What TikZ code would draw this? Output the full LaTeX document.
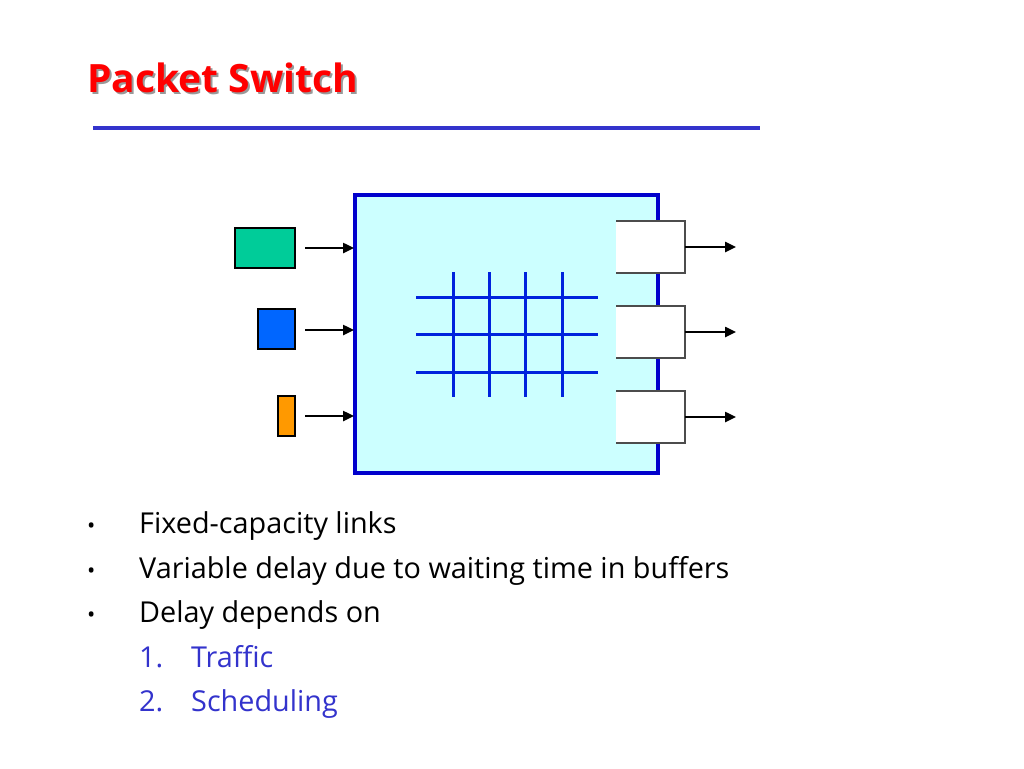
\documentclass[tikz,border=0pt]{standalone}
\usepackage{fontspec}
\setmainfont{Open Sans}
\usetikzlibrary{arrows.meta}
\definecolor{boxblue}{HTML}{0000CC}
\definecolor{gridblue}{HTML}{0022DD}
\definecolor{fillcyan}{HTML}{CCFFFF}
\definecolor{listblue}{HTML}{3333CC}
\definecolor{pgreen}{HTML}{00CC99}
\definecolor{pblue}{HTML}{0066FF}
\definecolor{porange}{HTML}{FF9900}
\tikzset{
  packet/.style={draw=black, line width=1.2pt, inner sep=0pt, outer sep=0pt},
  buffer/.style={fill=white, inner sep=0pt, outer sep=0pt, minimum width=69pt, minimum height=52pt},
  arr/.style={line width=2.4pt, -{Triangle[length=11pt,width=10pt]}},
  gridline/.style={gridblue, line width=3pt},
  bodytext/.style={anchor=base west, inner sep=0pt, font=\fontsize{28.8}{32}\selectfont},
}
\begin{document}
\begin{tikzpicture}[x=1pt,y=-1pt]
\useasboundingbox (0,0) rectangle (1024,768);
% title
\node[anchor=base west, inner sep=0pt, text=black!40, font=\fontsize{39}{44}\selectfont\bfseries] (titleshadow) at (89,94) {Packet Switch};
\node[anchor=base west, inner sep=0pt, text=red, font=\fontsize{39}{44}\selectfont\bfseries] (title) at (87,92) {Packet Switch};
\coordinate (rl) at (93,128);
\coordinate (rr) at (760,128);
\draw[listblue, line width=4.5pt] (rl) -- (rr);
% switch box
\node[draw=boxblue, fill=fillcyan, line width=3.2pt, inner sep=0pt, minimum width=303pt, minimum height=278pt] (sw) at (506.5,334) {};
% grid
\foreach \y/\n in {297/h1,334/h2,372/h3}{
  \coordinate (\n a) at (416,\y); \coordinate (\n b) at (598,\y);
  \draw[gridline] (\n a) -- (\n b);
}
\foreach \x/\n in {453/v1,489/v2,525/v3,562/v4}{
  \coordinate (\n a) at (\x,272); \coordinate (\n b) at (\x,397);
  \draw[gridline] (\n a) -- (\n b);
}
% input packets
\node[packet, fill=pgreen, minimum width=60pt, minimum height=40pt] (p1) at (265,248) {};
\node[packet, fill=pblue, minimum width=37pt, minimum height=40pt] (p2) at (276.5,329) {};
\node[packet, fill=porange, minimum width=17pt, minimum height=40pt] (p3) at (286.5,416) {};
\coordinate (i1) at (305,248); \coordinate (i2) at (305,330); \coordinate (i3) at (305,416);
\coordinate (e1) at (354,248); \coordinate (e2) at (354,330); \coordinate (e3) at (354,416);
\draw[arr] (i1) -- (e1);
\draw[arr] (i2) -- (e2);
\draw[arr] (i3) -- (e3);
% output buffers
\foreach \y/\n in {247/b1,332/b2,417/b3}{
  \node[buffer] (\n) at (650.5,\y) {};
  \draw[black!70, line width=1.3pt] (\n.north west) -- (\n.north east) -- (\n.south east) -- (\n.south west);
  \coordinate (\n o) at (736,\y);
  \draw[arr] (\n.east) -- (\n o);
}
% bullets
\foreach \y/\t/\n in {533/{Fixed-capacity links}/t1, 578/{Variable delay due to waiting time in buffers}/t2, 622/{Delay depends on}/t3}{
  \node[bodytext, font=\fontsize{22}{30}\selectfont] (\n dot) at (87,\y) {•};
  \node[bodytext] (\n) at (139,\y) {\t};
}
\node[bodytext, text=listblue] (n1) at (139,667) {1.};
\node[bodytext, text=listblue] (l1) at (191,667) {Traffic};
\node[bodytext, text=listblue] (n2) at (139,711) {2.};
\node[bodytext, text=listblue] (l2) at (191,711) {Scheduling};
\end{tikzpicture}
\end{document}
